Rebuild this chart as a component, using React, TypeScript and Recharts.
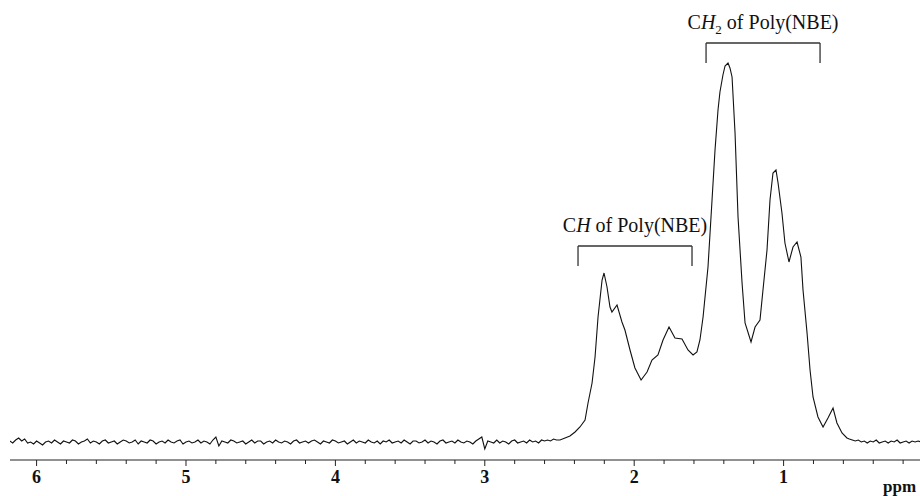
import { LineChart, Line, XAxis, YAxis, ReferenceLine } from "recharts";

// flat noisy baseline, 6.18 -> 2.52 ppm every 0.02
const baselineStart = 6.18;
const baselineStep = 0.02;
const baselineLeft = [
  1, -1, 2, 4, 1, 3, -1, 0, -2, 1, -1, -3, 0, 1, -1, 2, 0, -2, 1, 0,
  -1, 2, 1, -2, 0, 1, 3, -1, 1, 0, -2, 1, 2, -1, 0, 1, -2, 0, 2, 1,
  -1, 0, 2, -2, 1, 0, -1, 2, 1, -2, 0, 1, -1, 2, 0, -1, 1, 2, -2, 0,
  1, -1, 0, 2, -1, 1, 0, -2, 2, 5, -4, 1, 0, -1, 2, 1, -1, 0, 1, -2,
  0, 2, -1, 1, 1, -2, 0, 1, -1, 2, 0, -1, 1, 0, -2, 1, 2, -1, 0, 1,
  -1, 1, 2, 0, -2, 1, 0, -1, 2, 1, -1, 0, 1, -2, 0, 2, -1, 1, 0, -1,
  2, 0, -1, 1, -2, 1, 0, 2, -1, 0, 1, -1, 2, 0, -2, 1, 1, -1, 0, 2,
  -1, 1, 0, -2, 1, 2, -1, 0, 1, -1, 2, 0, -1, 1, 0, -2, 1, 3, 5, -7,
  1, 0, -1, 2, -1, 1, 0, -2, 1, 2, -1, 0, 1, -1, 2, 0, 1, -1, 2, 1,
  2, 1, 3, 2,
];

// poly(NBE) signals
const peakPpm = [
  2.497, 2.463, 2.43, 2.396, 2.363, 2.329, 2.309, 2.282, 2.262, 2.242,
  2.215, 2.202, 2.182, 2.162, 2.149, 2.115, 2.082, 2.062, 2.028, 1.995,
  1.954, 1.914, 1.881, 1.841, 1.807, 1.767, 1.727, 1.68, 1.64, 1.606,
  1.58, 1.56, 1.539, 1.506, 1.479, 1.459, 1.439, 1.426, 1.406, 1.392,
  1.372, 1.359, 1.345, 1.325, 1.305, 1.278, 1.258, 1.218, 1.191, 1.158,
  1.138, 1.111, 1.091, 1.071, 1.051, 1.037, 1.011, 0.991, 0.964, 0.937,
  0.91, 0.884, 0.87, 0.843, 0.823, 0.803, 0.77, 0.736, 0.703, 0.669,
  0.643, 0.609, 0.576,
];
const peakIntensity = [
  2, 4, 6, 10, 15, 22, 39, 59, 85, 125,
  162, 169, 155, 135, 130, 137, 120, 112, 92, 74,
  62, 70, 82, 87, 102, 115, 104, 103, 92, 87,
  90, 102, 125, 175, 242, 292, 332, 350, 367, 376,
  379, 374, 365, 309, 225, 159, 119, 100, 115, 122,
  152, 192, 242, 269, 272, 259, 229, 199, 180, 195,
  200, 185, 152, 109, 72, 45, 25, 15, 24, 34,
  19, 9, 4,
];

// baseline after the signals, 0.56 -> 0.08 ppm
const tailStart = 0.56;
const tailNoise = [
  3, 2, 1, 2, 0, 1, -1, 1, 0, 2, -1, 0, 1, -1, 1, 0, 2, -1, 0, 1, -1, 1, 0, 1, 0,
];

const axisTicks = [
  6, 5.8, 5.6, 5.4, 5.2, 5, 4.8, 4.6, 4.4, 4.2, 4, 3.8, 3.6, 3.4, 3.2, 3,
  2.8, 2.6, 2.4, 2.2, 2, 1.8, 1.6, 1.4, 1.2, 1, 0.8, 0.6, 0.4, 0.2,
];

const brackets = [
  { from: 2.376, to: 1.613, top: 196, drop: 20, group: "CH" },
  { from: 1.519, to: 0.756, top: 399, drop: 20, group: "CH2" },
];

const spectrum = [
  ...baselineLeft.map((v, i) => ({
    ppm: +(baselineStart - i * baselineStep).toFixed(3),
    v,
  })),
  ...peakPpm.map((p, i) => ({ ppm: p, v: peakIntensity[i] })),
  ...tailNoise.map((v, i) => ({
    ppm: +(tailStart - i * baselineStep).toFixed(3),
    v,
  })),
];

const SERIF = "'Liberation Serif', 'Times New Roman', serif";

const PpmTick = (props: any) => {
  const { x, y, payload } = props;
  const val = payload.value as number;
  const major = Math.abs(val - Math.round(val)) < 1e-6;
  return (
    <g>
      <line x1={x} x2={x} y1={y} y2={y + (major ? 6 : 4)} stroke="#222" strokeWidth={1} />
      {major && (
        <text
          x={x}
          y={y + 23}
          textAnchor="middle"
          fontFamily={SERIF}
          fontWeight="bold"
          fontSize={18}
          fill="#111"
        >
          {Math.round(val)}
        </text>
      )}
    </g>
  );
};

const bracketLabel = (group: string) => (props: any) => {
  const vb = props.viewBox || {};
  const cx = vb.x + vb.width / 2;
  const y = vb.y - 14;
  return (
    <text x={cx} y={y} textAnchor="middle" fontFamily={SERIF} fontSize={20} fill="#111">
      C
      <tspan fontStyle="italic">H</tspan>
      {group === "CH2" ? (
        <>
          <tspan fontSize={13} dy={5}>2</tspan>
          <tspan dy={-5}> of Poly(NBE)</tspan>
        </>
      ) : (
        <tspan> of Poly(NBE)</tspan>
      )}
    </text>
  );
};

export default function App() {
  return (
    <div style={{ position: "absolute", left: 0, top: 0, width: 920, height: 496, background: "#fff" }}>
      <LineChart
        width={920}
        height={496}
        data={spectrum}
        margin={{ top: 42, right: 0, bottom: 0, left: 10 }}
      >
        <XAxis
          dataKey="ppm"
          type="number"
          domain={[0.087, 6.178]}
          allowDataOverflow
          reversed
          ticks={axisTicks}
          interval={0}
          tickSize={0}
          tickMargin={0}
          tickLine={false}
          tick={<PpmTick />}
          axisLine={{ stroke: "#222", strokeWidth: 1 }}
          height={36}
        />
        <YAxis hide type="number" domain={[-18, 400]} allowDataOverflow />
        <Line
          type="linear"
          dataKey="v"
          stroke="#111"
          strokeWidth={1.1}
          dot={false}
          isAnimationActive={false}
        />
        {brackets.map((b) => (
          <ReferenceLine
            key={b.group + "h"}
            segment={[
              { x: b.from, y: b.top },
              { x: b.to, y: b.top },
            ]}
            stroke="#333"
            strokeWidth={1.3}
            ifOverflow="visible"
            label={bracketLabel(b.group)}
          />
        ))}
        {brackets.map((b) => (
          <ReferenceLine
            key={b.group + "l"}
            segment={[
              { x: b.from, y: b.top },
              { x: b.from, y: b.top - b.drop },
            ]}
            stroke="#333"
            strokeWidth={1.3}
            ifOverflow="visible"
          />
        ))}
        {brackets.map((b) => (
          <ReferenceLine
            key={b.group + "r"}
            segment={[
              { x: b.to, y: b.top },
              { x: b.to, y: b.top - b.drop },
            ]}
            stroke="#333"
            strokeWidth={1.3}
            ifOverflow="visible"
          />
        ))}
      </LineChart>
      <div
        style={{
          position: "absolute",
          left: 883,
          top: 478,
          fontFamily: SERIF,
          fontWeight: "bold",
          fontSize: 17,
          lineHeight: "17px",
          color: "#111",
        }}
      >
        ppm
      </div>
    </div>
  );
}
